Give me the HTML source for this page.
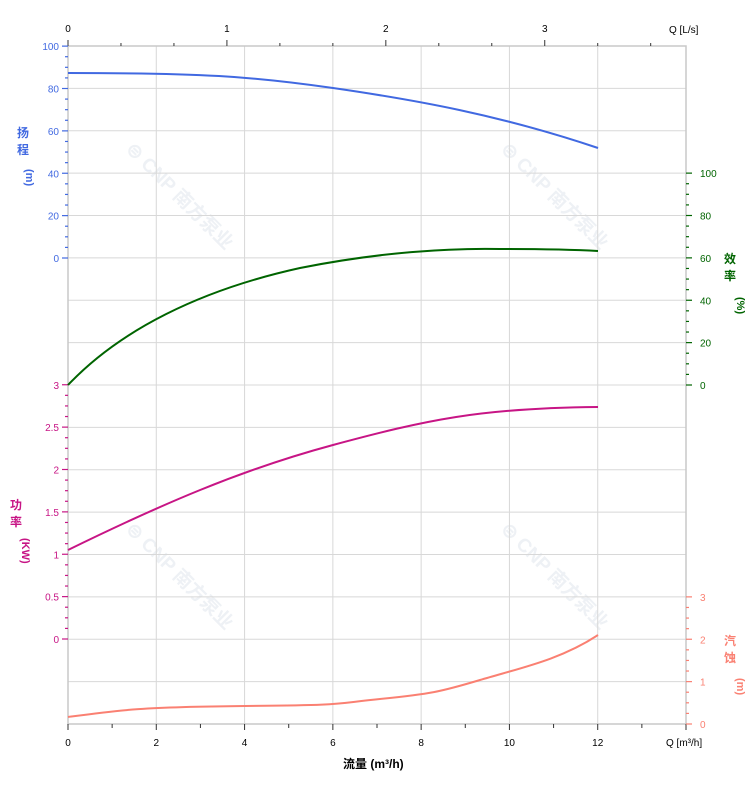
<!DOCTYPE html>
<html><head><meta charset="utf-8"><style>
html,body{margin:0;padding:0;background:#fff;}
svg{display:block;font-family:"Liberation Sans","Noto Sans CJK SC",sans-serif;}
</style></head><body>
<svg id="s" width="752" height="797" viewBox="0 0 752 797" xmlns="http://www.w3.org/2000/svg">
<g id="wm" fill="#eef1f5" font-size="19" font-weight="bold">
<text transform="translate(125,150) rotate(45)">⊜ CNP 南方泵业</text>
<text transform="translate(500,150) rotate(45)">⊜ CNP 南方泵业</text>
<text transform="translate(125,530) rotate(45)">⊜ CNP 南方泵业</text>
<text transform="translate(500,530) rotate(45)">⊜ CNP 南方泵业</text>
</g>
<g id="grid"></g>
<g id="ticks"></g>
<g fill="none" stroke-width="2">
<path stroke="#4169e1" d="M68,73 C200,73 250,76 333,88 S500,115 598,148"/>
<path stroke="#006400" d="M68,385 C120,330 200,290 300,268 C380,252 450,248 500,249 C550,249 580,250 598,251"/>
<path stroke="#c71585" d="M68,550 C160,505 240,470 333,445 S480,408 598,407"/>
<path stroke="#fa8072" d="M68,717 C120,710 140,707 245,706 S330,704 380,699 S440,692 480,680 S560,660 598,635"/>
</g>
<g font-size="12" font-weight="bold">
<text x="17" y="137" fill="#4169e1">扬</text><text x="17" y="154" fill="#4169e1">程</text>
<text x="17" y="170" fill="#4169e1" font-size="11" transform="rotate(90 22 174)">(m)</text>
<text x="724" y="263" fill="#006400">效</text><text x="724" y="280" fill="#006400">率</text>
<text x="724" y="296" fill="#006400" font-size="11" transform="rotate(90 730 303)">(%)</text>
<text x="10" y="509" fill="#c71585">功</text><text x="10" y="526" fill="#c71585">率</text>
<text x="6" y="540" fill="#c71585" font-size="11" transform="rotate(90 15 547)">(KW)</text>
<text x="724" y="645" fill="#fa8072">汽</text><text x="724" y="662" fill="#fa8072">蚀</text>
<text x="724" y="677" fill="#fa8072" font-size="11" transform="rotate(90 730 684)">(m)</text>
<text x="343" y="768" fill="#000">流量 (m³/h)</text>
</g>
<text x="669" y="33" font-size="10">Q [L/s]</text>
<text x="666" y="746" font-size="10">Q [m³/h]</text>
</svg>
<script>
var ns="http://www.w3.org/2000/svg";
function el(p,t,a,txt){var e=document.createElementNS(ns,t);for(var k in a)e.setAttribute(k,a[k]);if(txt!==undefined)e.textContent=txt;document.getElementById(p).appendChild(e);return e;}
var L=68,R=686,T=46,B=724,dy=(B-T)/16,dx=(R-L)/14;
for(var i=0;i<=16;i++){var y=T+i*dy;el('grid','line',{x1:L,x2:R,y1:y,y2:y,stroke:'#d8d8d8','stroke-width':1});}
for(var i=0;i<=7;i++){var x=L+i*2*dx;el('grid','line',{x1:x,x2:x,y1:T,y2:B,stroke:'#d8d8d8','stroke-width':1});}
el('grid','rect',{x:L,y:T,width:R-L,height:B-T,fill:'none',stroke:'#c8c8c8','stroke-width':1.5});
for(var q=0;q<=14;q++){var x=L+q*dx;el('ticks','line',{x1:x,x2:x,y1:B,y2:B+(q%2?4:6),stroke:'#333'});
 if(q%2==0&&q<14)el('ticks','text',{x:x,y:B+22,'font-size':10,'text-anchor':'middle'},q);}
var ls=dx*3.6;
for(var k=0;k*ls/3<=R-L+1;k++){var x=L+k*ls/3;el('ticks','line',{x1:x,x2:x,y1:T,y2:T-(k%3?3:6),stroke:'#333'});
 if(k%3==0)el('ticks','text',{x:x,y:T-14,'font-size':10,'text-anchor':'middle'},k/3);}
function axis(x,dir,y0,steps,labels,color){
 for(var i=0;i<=steps*4;i++){var y=y0-i*dy/4;var len=(i%4==0)?6:3;
  el('ticks','line',{x1:x,x2:x+dir*len,y1:y,y2:y,stroke:color,'stroke-width':1.2});
  if(i%4==0)el('ticks','text',{x:x+dir*(dir<0?9:14),y:y+4,'font-size':10,fill:color,'text-anchor':dir<0?'end':'start'},labels[i/4]);}
}
axis(L,-1,258,5,[0,20,40,60,80,100],'#4169e1');
axis(R,1,385,5,[0,20,40,60,80,100],'#006400');
axis(L,-1,639,6,[0,0.5,1,1.5,2,2.5,3],'#c71585');
axis(R,1,724,3,[0,1,2,3],'#fa8072');
</script>
</body></html>
